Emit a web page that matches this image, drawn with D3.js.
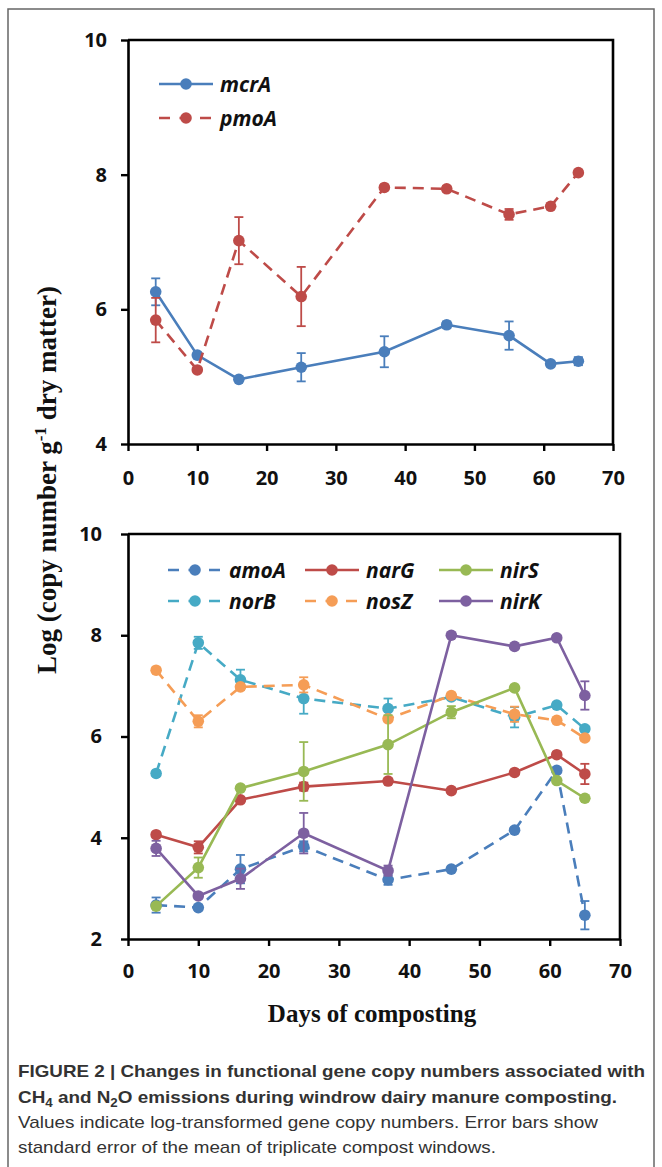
<!DOCTYPE html>
<html>
<head>
<meta charset="utf-8">
<script src="https://cdn.jsdelivr.net/npm/d3@7"></script>
<style>
  body { margin: 0; background: #fff; }
  svg { display: block; }
  .tick text { font-family: "Open Sans", sans-serif; font-weight: 700; font-size: 20px; fill: #111; }
  .legend text { font-family: "Open Sans", sans-serif; font-weight: 700; font-style: italic; font-size: 21px; fill: #111; }
  .title { font-family: "Liberation Serif", "Times New Roman", serif; font-weight: 700; fill: #111; }
  .caption { font-family: "Liberation Sans", Arial, sans-serif; font-size: 17px; fill: #333; }
</style>
</head>
<body>
<div id="chart"></div>
<script>

// Sampling days (x values shared by all series)
var days = [4, 10, 16, 25, 37, 46, 55, 61, 65];

// Top panel: methane genes
var mcrA    = [6.26, 5.32, 4.96, 5.14, 5.37, 5.77, 5.61, 5.19, 5.23];
var mcrAErr = [0.20, 0.04, 0.03, 0.21, 0.23, 0.05, 0.21, 0.04, 0.06];
var pmoA    = [5.84, 5.10, 7.02, 6.19, 7.81, 7.79, 7.41, 7.53, 8.03];
var pmoAErr = [0.33, 0.03, 0.35, 0.44, 0.04, 0.04, 0.08, 0.04, 0.04];

// Bottom panel: nitrogen genes
var amoA    = [2.67, 2.62, 3.38, 3.83, 3.17, 3.38, 4.15, 5.33, 2.47];
var amoAErr = [0.15, 0.05, 0.28, 0.10, 0.10, 0.05, 0.05, 0.05, 0.28];
var narG    = [4.06, 3.81, 4.75, 5.01, 5.12, 4.93, 5.29, 5.64, 5.26];
var narGErr = [0.05, 0.12, 0.05, 0.08, 0.05, 0.05, 0.05, 0.05, 0.20];
var nirS    = [2.65, 3.41, 4.98, 5.31, 5.84, 6.48, 6.96, 5.13, 4.78];
var nirSErr = [0.05, 0.20, 0.05, 0.58, 0.58, 0.12, 0.05, 0.05, 0.05];
var norB    = [5.27, 7.85, 7.12, 6.75, 6.55, 6.78, 6.38, 6.62, 6.15];
var norBErr = [0.05, 0.12, 0.20, 0.30, 0.20, 0.05, 0.20, 0.05, 0.05];
var nosZ    = [7.31, 6.30, 6.98, 7.02, 6.35, 6.81, 6.44, 6.32, 5.97];
var nosZErr = [0.05, 0.12, 0.05, 0.15, 0.05, 0.05, 0.15, 0.05, 0.05];
var nirK    = [3.79, 2.85, 3.19, 4.09, 3.35, 8.00, 7.78, 7.95, 6.81];
var nirKErr = [0.15, 0.05, 0.20, 0.40, 0.10, 0.05, 0.05, 0.05, 0.28];

// Tick labels
var xTicks = [0, 10, 20, 30, 40, 50, 60, 70];
var yTicksTop = [4, 6, 8, 10];
var yTicksBottom = [2, 4, 6, 8, 10];

var W = 662, H = 1167;

var svg = d3.select('#chart').append('svg')
    .attr('width', W)
    .attr('height', H);

// outer figure frame
svg.append('rect')
    .attr('x', 8).attr('y', 9)
    .attr('width', 646).attr('height', 1200)
    .attr('fill', 'none')
    .attr('stroke', '#666')
    .attr('stroke-width', 1.5);

/**
 * Draw one panel: box, axes, series with error bars and legend.
 */
function drawPanel(p) {
    var x = d3.scaleLinear().domain([0, 70]).range([p.left, p.right]);
    var y = d3.scaleLinear().domain(p.yDomain).range([p.bottom, p.top]);

    var g = svg.append('g');

    // Box top & right
    g.append('path')
        .attr('d', 'M' + p.left + ',' + p.top + 'H' + p.right + 'V' + p.bottom)
        .attr('fill', 'none')
        .attr('stroke', '#000')
        .attr('stroke-width', 2.6);

    var xAxis = d3.axisBottom(x).tickValues(xTicks)
        .tickFormat(d3.format('d'))
        .tickSize(7).tickSizeOuter(0).tickPadding(p.xPad);
    var yAxis = d3.axisLeft(y).tickValues(p.yTicks)
        .tickFormat(d3.format('d'))
        .tickSize(7).tickSizeOuter(0).tickPadding(p.yPad);

    var gx = g.append('g')
        .attr('transform', 'translate(0,' + p.bottom + ')')
        .call(xAxis);
    var gy = g.append('g')
        .attr('transform', 'translate(' + p.left + ',0)')
        .call(yAxis);

    [gx, gy].forEach(function(a) {
        a.attr('font-family', null).attr('font-size', null);
        a.select('.domain').attr('stroke', '#000').attr('stroke-width', 2.6);
        a.selectAll('.tick line').attr('stroke', '#000').attr('stroke-width', 2.4);
    });

    // Series
    p.series.forEach(function(s) {
        var pts = days.map(function(d, i) { return {d: d, v: s.values[i], e: s.err[i]}; });

        var line = d3.line()
            .x(function(d) { return x(d.d); })
            .y(function(d) { return y(d.v); });

        var sg = g.append('g');

        sg.append('path')
            .attr('d', line(pts))
            .attr('fill', 'none')
            .attr('stroke', s.color)
            .attr('stroke-width', 2.6)
            .attr('stroke-dasharray', s.dashed ? '11,7' : null);

        // error bars
        var eb = sg.selectAll('.eb').data(pts).enter().append('g');
        eb.append('line')
            .attr('x1', function(d) { return x(d.d); })
            .attr('x2', function(d) { return x(d.d); })
            .attr('y1', function(d) { return y(d.v + d.e); })
            .attr('y2', function(d) { return y(d.v - d.e); })
            .attr('stroke', s.color).attr('stroke-width', 1.8);
        [1, -1].forEach(function(sign) {
            eb.append('line')
                .attr('x1', function(d) { return x(d.d) - 4.5; })
                .attr('x2', function(d) { return x(d.d) + 4.5; })
                .attr('y1', function(d) { return y(d.v + sign * d.e); })
                .attr('y2', function(d) { return y(d.v + sign * d.e); })
                .attr('stroke', s.color).attr('stroke-width', 1.8);
        });

        sg.selectAll('circle').data(pts).enter().append('circle')
            .attr('cx', function(d) { return x(d.d); })
            .attr('cy', function(d) { return y(d.v); })
            .attr('r', 5.8)
            .attr('fill', s.color);
    });

    // Legend
    var lg = g.append('g').attr('class', 'legend');
    p.series.forEach(function(s) {
        var lx = s.lx, ly = s.ly;
        lg.append('line')
            .attr('x1', lx).attr('x2', lx + 54)
            .attr('y1', ly).attr('y2', ly)
            .attr('stroke', s.color)
            .attr('stroke-width', 2.6)
            .attr('stroke-dasharray', s.dashed ? '11,9.5' : null);
        lg.append('circle')
            .attr('cx', lx + 27).attr('cy', ly)
            .attr('r', 5.8)
            .attr('fill', s.color);
        lg.append('text')
            .attr('x', lx + 61).attr('y', ly + 7.5)
            .text(s.name);
    });
}

var blue = '#4a7ebb', red = '#be4b48', green = '#98b954',
    purple = '#7d60a0', cyan = '#46aac5', orange = '#f59d56';

drawPanel({
    left: 128, right: 613, top: 40, bottom: 444,
    yDomain: [4, 10], yTicks: yTicksTop, xPad: 20, yPad: 14,
    series: [
        {name: 'mcrA', values: mcrA, err: mcrAErr, color: blue, dashed: false, lx: 159, ly: 84},
        {name: 'pmoA', values: pmoA, err: pmoAErr, color: red, dashed: true, lx: 159, ly: 118}
    ]
});

drawPanel({
    left: 128, right: 620, top: 534, bottom: 939,
    yDomain: [2, 10], yTicks: yTicksBottom, xPad: 18, yPad: 19,
    series: [
        {name: 'amoA', values: amoA, err: amoAErr, color: blue, dashed: true, lx: 168, ly: 570},
        {name: 'norB', values: norB, err: norBErr, color: cyan, dashed: true, lx: 168, ly: 601},
        {name: 'narG', values: narG, err: narGErr, color: red, dashed: false, lx: 305, ly: 570},
        {name: 'nosZ', values: nosZ, err: nosZErr, color: orange, dashed: true, lx: 305, ly: 601},
        {name: 'nirS', values: nirS, err: nirSErr, color: green, dashed: false, lx: 439, ly: 570},
        {name: 'nirK', values: nirK, err: nirKErr, color: purple, dashed: false, lx: 439, ly: 601}
    ]
});

// Y axis title (shared)
var yt = svg.append('text')
    .attr('class', 'title')
    .attr('transform', 'translate(56,480) rotate(-90)')
    .attr('text-anchor', 'middle')
    .attr('font-size', 27);
yt.append('tspan').text('Log (copy number g');
yt.append('tspan').attr('font-size', 17).attr('dy', -10).text('-1');
yt.append('tspan').attr('dy', 10).text(' dry matter)');

// X axis title
svg.append('text')
    .attr('class', 'title')
    .attr('x', 372).attr('y', 1022)
    .attr('text-anchor', 'middle')
    .attr('font-size', 25)
    .text('Days of composting');

// Caption
function captionLine(yPos, bold, parts, len) {
    var t = svg.append('text')
        .attr('class', 'caption')
        .attr('x', 18).attr('y', yPos)
        .attr('font-weight', bold ? 700 : 400)
        .attr('textLength', len)
        .attr('lengthAdjust', 'spacingAndGlyphs');
    parts.forEach(function(pt) {
        var ts = t.append('tspan').text(pt.t);
        if (pt.sub) ts.attr('font-size', 12).attr('dy', 4);
        if (pt.back) ts.attr('dy', -4);
    });
}

captionLine(1077, true, [{t: 'FIGURE 2 | Changes in functional gene copy numbers associated with'}], 627);
captionLine(1103, true, [
    {t: 'CH'}, {t: '4', sub: true}, {t: ' and N', back: true}, {t: '2', sub: true},
    {t: 'O emissions during windrow dairy manure composting.', back: true}
], 599);
captionLine(1128, false, [{t: 'Values indicate log-transformed gene copy numbers. Error bars show'}], 580);
captionLine(1153, false, [{t: 'standard error of the mean of triplicate compost windows.'}], 478);

</script>
</body>
</html>
